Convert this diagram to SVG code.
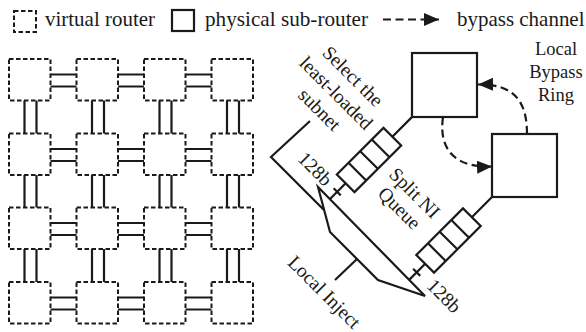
<svg xmlns="http://www.w3.org/2000/svg" width="586" height="332" viewBox="0 0 586 332">
<defs>
<style>
text{font-family:"Liberation Serif","Times New Roman",serif;fill:#1a1a1a}
.lg{font-size:21px}
.lb{font-size:19.5px}
.vr{fill:none;stroke:#1a1a1a;stroke-width:2;stroke-dasharray:4.5 2.5}
.pr{fill:#fff;stroke:#1a1a1a;stroke-width:2.2}
.ln{fill:none;stroke:#1a1a1a;stroke-width:2.2}
.dl{fill:none;stroke:#1a1a1a;stroke-width:2.2;stroke-dasharray:8 4.5}
</style>
<marker id="ah" markerUnits="userSpaceOnUse" markerWidth="16" markerHeight="14" refX="15" refY="6.5" orient="auto">
<path d="M0,0 L15,6.5 L0,13 Z" fill="#1a1a1a"/>
</marker>
</defs>
<rect width="586" height="332" fill="#fff"/>

<g id="legend">
<rect class="vr" x="14" y="11" width="22" height="21"/>
<text class="lg" x="45" y="26" textLength="110" lengthAdjust="spacingAndGlyphs">virtual router</text>
<rect class="pr" x="172" y="10" width="22" height="21"/>
<text class="lg" x="205" y="26" textLength="163" lengthAdjust="spacingAndGlyphs">physical sub-router</text>
<line class="dl" x1="383" y1="19.5" x2="439" y2="19.5" marker-end="url(#ah)"/>
<text class="lg" x="457" y="26" textLength="127.5" lengthAdjust="spacingAndGlyphs">bypass channel</text>
</g>

<g id="grid-routers">
<g id="v11"><rect class="vr" x="9" y="59" width="41.5" height="41.5"/></g>
<g id="v12"><rect class="vr" x="76.5" y="59" width="41.5" height="41.5"/></g>
<g id="v13"><rect class="vr" x="144" y="59" width="41.5" height="41.5"/></g>
<g id="v14"><rect class="vr" x="211.5" y="59" width="41.5" height="41.5"/></g>
<g id="v21"><rect class="vr" x="9" y="133.5" width="41.5" height="41.5"/></g>
<g id="v22"><rect class="vr" x="76.5" y="133.5" width="41.5" height="41.5"/></g>
<g id="v23"><rect class="vr" x="144" y="133.5" width="41.5" height="41.5"/></g>
<g id="v24"><rect class="vr" x="211.5" y="133.5" width="41.5" height="41.5"/></g>
<g id="v31"><rect class="vr" x="9" y="207.5" width="41.5" height="41.5"/></g>
<g id="v32"><rect class="vr" x="76.5" y="207.5" width="41.5" height="41.5"/></g>
<g id="v33"><rect class="vr" x="144" y="207.5" width="41.5" height="41.5"/></g>
<g id="v34"><rect class="vr" x="211.5" y="207.5" width="41.5" height="41.5"/></g>
<g id="v41"><rect class="vr" x="9" y="282" width="41.5" height="41.5"/></g>
<g id="v42"><rect class="vr" x="76.5" y="282" width="41.5" height="41.5"/></g>
<g id="v43"><rect class="vr" x="144" y="282" width="41.5" height="41.5"/></g>
<g id="v44"><rect class="vr" x="211.5" y="282" width="41.5" height="41.5"/></g>
</g>

<g id="connectors">
<path class="ln" d="M50.5,74.5H76.5M50.5,86.5H76.5M118,74.5H144M118,86.5H144M185.5,74.5H211.5M185.5,86.5H211.5
M50.5,149H76.5M50.5,161H76.5M118,149H144M118,161H144M185.5,149H211.5M185.5,161H211.5
M50.5,223H76.5M50.5,235H76.5M118,223H144M118,235H144M185.5,223H211.5M185.5,235H211.5
M50.5,297.5H76.5M50.5,309.5H76.5M118,297.5H144M118,309.5H144M185.5,297.5H211.5M185.5,309.5H211.5"/>
<path class="ln" d="M24.5,100.5V133.5M36.5,100.5V133.5M92,100.5V133.5M104,100.5V133.5M159.5,100.5V133.5M171.5,100.5V133.5M227,100.5V133.5M239,100.5V133.5
M24.5,175V207.5M36.5,175V207.5M92,175V207.5M104,175V207.5M159.5,175V207.5M171.5,175V207.5M227,175V207.5M239,175V207.5
M24.5,249V282M36.5,249V282M92,249V282M104,249V282M159.5,249V282M171.5,249V282M227,249V282M239,249V282"/>
<path class="dl" d="M527,134 C527,102 515,84 478,84.5" marker-end="url(#ah)"/>
<path class="dl" d="M443,117 C438,152 458,168 492,166.5" marker-end="url(#ah)"/>
<g transform="translate(369,160) rotate(-45)">
<path class="ln" d="M33,0H61M-33,0H-55.5M-45,-5V5"/>
</g>
<g transform="translate(448.5,240.5) rotate(-45)">
<path class="ln" d="M33,0H61.5M-33,0H-56M-45,-5V5"/>
</g>
<path class="ln" d="M310,121 L271,157 L324,210"/>
<path class="ln" d="M335,280 L357,259"/>
</g>

<g id="subrouter-a"><rect class="pr" x="412" y="53" width="65" height="64"/></g>
<g id="subrouter-b"><rect class="pr" x="492" y="134" width="65" height="63"/></g>

<g id="queue-a" transform="translate(369,160) rotate(-45)">
<rect class="pr" x="-33" y="-12.5" width="66" height="25"/>
<path class="ln" d="M-16.5,-12.5V12.5M0,-12.5V12.5M16.5,-12.5V12.5"/>
</g>
<g id="queue-b" transform="translate(448.5,240.5) rotate(-45)">
<rect class="pr" x="-33" y="-12.5" width="66" height="25"/>
<path class="ln" d="M-16.5,-12.5V12.5M0,-12.5V12.5M16.5,-12.5V12.5"/>
</g>

<g id="demux"><path class="ln" d="M318,187 L330,232 L378,280 L425,296 Z"/></g>

<g id="labels">
<text class="lb" text-anchor="middle" transform="translate(348.3,80.9) rotate(45)"><tspan x="0" y="0">Select the</tspan><tspan x="0" dy="23.5">least-loaded</tspan><tspan x="0" dy="23.5">subnet</tspan></text>
<text class="lb" text-anchor="middle" transform="translate(310.5,173.5) rotate(45)">128b</text>
<text class="lb" text-anchor="middle" transform="translate(439.5,300.5) rotate(45)">128b</text>
<text class="lb" text-anchor="middle" transform="translate(410,197.5) rotate(45)"><tspan x="0" y="0">Split NI</tspan><tspan x="0" dy="21.5">Queue</tspan></text>
<text class="lb" text-anchor="middle" transform="translate(319.8,296.8) rotate(45)">Local Inject</text>
<text class="lb" text-anchor="middle" style="font-size:18.5px"><tspan x="556" y="55">Local</tspan><tspan x="556" y="78">Bypass</tspan><tspan x="556" y="100.5">Ring</tspan></text>
</g>
</svg>
